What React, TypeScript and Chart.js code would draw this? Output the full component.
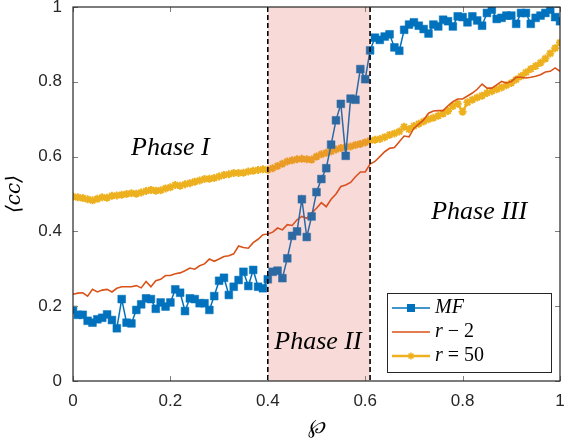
import { useEffect, useRef } from "react";
import { Chart, registerables } from "chart.js";

Chart.register(...registerables);

// sample positions (wp)
const phi = [
  0, 0.01, 0.02, 0.03, 0.04, 0.05, 0.06, 0.07, 0.08, 0.09,
  0.1, 0.11, 0.12, 0.13, 0.14, 0.15, 0.16, 0.17, 0.18, 0.19,
  0.2, 0.21, 0.22, 0.23, 0.24, 0.25, 0.26, 0.27, 0.28, 0.29,
  0.3, 0.31, 0.32, 0.33, 0.34, 0.35, 0.36, 0.37, 0.38, 0.39,
  0.4, 0.41, 0.42, 0.43, 0.44, 0.45, 0.46, 0.47, 0.48, 0.49,
  0.5, 0.51, 0.52, 0.53, 0.54, 0.55, 0.56, 0.57, 0.58, 0.59,
  0.6, 0.61, 0.62, 0.63, 0.64, 0.65, 0.66, 0.67, 0.68, 0.69,
  0.7, 0.71, 0.72, 0.73, 0.74, 0.75, 0.76, 0.77, 0.78, 0.79,
  0.8, 0.81, 0.82, 0.83, 0.84, 0.85, 0.86, 0.87, 0.88, 0.89,
  0.9, 0.91, 0.92, 0.93, 0.94, 0.95, 0.96, 0.97, 0.98, 0.99,
  1,
];

const mfValues = [
  0.19, 0.177, 0.177, 0.161, 0.156, 0.165, 0.169, 0.178, 0.163, 0.141,
  0.219, 0.156, 0.154, 0.19, 0.205, 0.221, 0.219, 0.193, 0.21, 0.199,
  0.21, 0.245, 0.236, 0.187, 0.221, 0.219, 0.208, 0.208, 0.19, 0.227,
  0.268, 0.276, 0.23, 0.252, 0.27, 0.292, 0.254, 0.297, 0.252, 0.248,
  0.272, 0.292, 0.295, 0.275, 0.328, 0.388, 0.4, 0.486, 0.385, 0.44,
  0.505, 0.54, 0.569, 0.632, 0.697, 0.741, 0.602, 0.755, 0.752, 0.834,
  0.807, 0.884, 0.918, 0.912, 0.921, 0.927, 0.892, 0.883, 0.939, 0.953,
  0.959, 0.95, 0.941, 0.929, 0.953, 0.948, 0.966, 0.962, 0.948, 0.975,
  0.973, 0.959, 0.975, 0.964, 0.95, 0.984, 0.993, 0.968, 0.971, 0.977,
  0.977, 0.955, 0.984, 0.984, 0.955, 0.971, 0.977, 0.984, 0.993, 0.973,
  0.962,
];

const r2Values = [
  0.232, 0.235, 0.236, 0.227, 0.245, 0.238, 0.243, 0.245, 0.238, 0.248,
  0.252, 0.252, 0.252, 0.255, 0.249, 0.266, 0.252, 0.268, 0.272, 0.282,
  0.282, 0.287, 0.289, 0.295, 0.302, 0.299, 0.308, 0.313, 0.326, 0.32,
  0.326, 0.333, 0.335, 0.34, 0.361, 0.357, 0.355, 0.37, 0.379, 0.391,
  0.393, 0.398, 0.409, 0.404, 0.418, 0.416, 0.431, 0.44, 0.435, 0.449,
  0.462, 0.477, 0.466, 0.486, 0.5, 0.52, 0.524, 0.531, 0.546, 0.559,
  0.559, 0.58, 0.587, 0.6, 0.613, 0.622, 0.624, 0.64, 0.655, 0.653,
  0.676, 0.687, 0.698, 0.716, 0.722, 0.723, 0.723, 0.736, 0.747, 0.754,
  0.754, 0.762, 0.77, 0.78, 0.794, 0.783, 0.783, 0.792, 0.801, 0.797,
  0.801, 0.812, 0.812, 0.81, 0.812, 0.815, 0.819, 0.826, 0.828, 0.837,
  0.828,
];

const r50Values = [
  0.493, 0.491, 0.489, 0.486, 0.483, 0.487, 0.491, 0.49, 0.495, 0.496,
  0.498, 0.5, 0.502, 0.501, 0.504, 0.508, 0.511, 0.509, 0.51, 0.515,
  0.518, 0.524, 0.522, 0.526, 0.529, 0.533, 0.536, 0.54, 0.541, 0.543,
  0.547, 0.551, 0.553, 0.556, 0.556, 0.557, 0.56, 0.562, 0.564, 0.566,
  0.565, 0.569, 0.575, 0.581, 0.587, 0.59, 0.593, 0.594, 0.593, 0.592,
  0.6, 0.606, 0.61, 0.614, 0.619, 0.623, 0.625, 0.627, 0.631, 0.634,
  0.638, 0.643, 0.645, 0.647, 0.652, 0.658, 0.662, 0.667, 0.68, 0.673,
  0.682, 0.688, 0.694, 0.7, 0.704, 0.709, 0.715, 0.722, 0.735, 0.741,
  0.72, 0.745, 0.752, 0.758, 0.763, 0.77, 0.775, 0.78, 0.785, 0.791,
  0.797, 0.806, 0.815, 0.825, 0.834, 0.842, 0.851, 0.862, 0.876, 0.89,
  0.905,
];

const seriesLabels = ["MF", "r \u2212 2", "r = 50"];

const xTickValues = [0, 0.2, 0.4, 0.6, 0.8, 1];
const xTickLabels = ["0", "0.2", "0.4", "0.6", "0.8", "1"];
const yTickValues = [0, 0.2, 0.4, 0.6, 0.8, 1];
const yTickLabels = ["0", "0.2", "0.4", "0.6", "0.8", "1"];

// phase II band edges
const phaseBounds = [0.4, 0.61];
const phaseNames = ["Phase I", "Phase II", "Phase III"];
const phaseAnchors = [
  [0.2, 0.623],
  [0.503, 0.104],
  [0.834, 0.452],
];

const BLUE = "#0072BD";
const RED = "#D95319";
const YELLOW = "#EDB120";
const AXIS = "#262626";

const mathFont = "'Liberation Serif', serif";

// letters italic, the rest upright, like LaTeX math
function drawMath(ctx: CanvasRenderingContext2D, text: string, x: number, y: number, size: number, align: "left" | "center") {
  const runs: { t: string; it: boolean }[] = [];
  for (const ch of text) {
    const it = /[A-Za-z]/.test(ch);
    const last = runs[runs.length - 1];
    if (last && last.it === it) last.t += ch;
    else runs.push({ t: ch, it });
  }
  const fontFor = (it: boolean) => `${it ? "italic " : ""}${size}px ${mathFont}`;
  let total = 0;
  for (const r of runs) {
    ctx.font = fontFor(r.it);
    total += ctx.measureText(r.t).width;
  }
  let cx = align === "center" ? x - total / 2 : x;
  ctx.textBaseline = "middle";
  ctx.textAlign = "left";
  for (const r of runs) {
    ctx.font = fontFor(r.it);
    ctx.fillText(r.t, cx, y);
    cx += ctx.measureText(r.t).width;
  }
}

const overlayPlugin = {
  id: "phaseOverlay",
  afterDatasetsDraw(chart: any) {
    const { ctx, chartArea, scales } = chart;
    const { left, right, top, bottom } = chartArea;
    const x0 = scales.x.getPixelForValue(phaseBounds[0]);
    const x1 = scales.x.getPixelForValue(phaseBounds[1]);
    ctx.save();

    // translucent band over the data
    ctx.fillStyle = "rgba(220, 70, 60, 0.2)";
    ctx.fillRect(x0, top, x1 - x0, bottom - top);

    // dashed borders
    ctx.strokeStyle = "#000";
    ctx.lineWidth = 1.6;
    ctx.setLineDash([5, 3]);
    for (const xp of [x0, x1]) {
      ctx.beginPath();
      ctx.moveTo(xp, top);
      ctx.lineTo(xp, bottom);
      ctx.stroke();
    }
    ctx.setLineDash([]);

    // phase labels
    ctx.fillStyle = "#000";
    phaseNames.forEach((name, i) => {
      const px = scales.x.getPixelForValue(phaseAnchors[i][0]);
      const py = scales.y.getPixelForValue(phaseAnchors[i][1]);
      drawMath(ctx, name, px, py, 26, "center");
    });

    // inward tick marks on all four sides
    ctx.strokeStyle = "#808080";
    ctx.lineWidth = 1;
    const tl = 5;
    for (const v of xTickValues) {
      const xp = Math.round(scales.x.getPixelForValue(v)) + 0.5;
      ctx.beginPath();
      ctx.moveTo(xp, bottom);
      ctx.lineTo(xp, bottom - tl);
      ctx.moveTo(xp, top);
      ctx.lineTo(xp, top + tl);
      ctx.stroke();
    }
    for (const v of yTickValues) {
      const yp = Math.round(scales.y.getPixelForValue(v)) + 0.5;
      ctx.beginPath();
      ctx.moveTo(left, yp);
      ctx.lineTo(left + tl, yp);
      ctx.moveTo(right, yp);
      ctx.lineTo(right - tl, yp);
      ctx.stroke();
    }

    // axes box
    ctx.strokeStyle = AXIS;
    ctx.lineWidth = 1.2;
    ctx.strokeRect(left, top, right - left, bottom - top);

    // legend box in the lower right corner
    const bw = 164;
    const bh = 79;
    const bx = right - 9 - bw;
    const by = bottom - 9 - bh;
    ctx.fillStyle = "#fff";
    ctx.fillRect(bx, by, bw, bh);
    ctx.strokeStyle = AXIS;
    ctx.lineWidth = 1;
    ctx.strokeRect(bx + 0.5, by + 0.5, bw, bh);
    chart.data.datasets.forEach((ds: any, i: number) => {
      const ly = by + 15 + i * 24;
      const lx0 = bx + 5;
      const lx1 = bx + 43;
      const mx = (lx0 + lx1) / 2;
      ctx.strokeStyle = ds.borderColor;
      ctx.lineWidth = ds.borderWidth;
      ctx.beginPath();
      ctx.moveTo(lx0, ly);
      ctx.lineTo(lx1, ly);
      ctx.stroke();
      if (ds.pointStyle === "rect") {
        ctx.fillStyle = ds.pointBackgroundColor;
        const s = 8;
        ctx.fillRect(mx - s / 2, ly - s / 2, s, s);
      } else if (ds.pointStyle === "star") {
        ctx.strokeStyle = ds.pointBorderColor;
        ctx.lineWidth = 1.5;
        const r = 3.5;
        ctx.beginPath();
        for (let k = 0; k < 4; k++) {
          const a = (k * Math.PI) / 4;
          ctx.moveTo(mx - r * Math.cos(a), ly - r * Math.sin(a));
          ctx.lineTo(mx + r * Math.cos(a), ly + r * Math.sin(a));
        }
        ctx.stroke();
      }
      ctx.fillStyle = "#000";
      drawMath(ctx, ds.label, bx + 48, ly, 20, "left");
    });

    ctx.restore();
  },
};

const tickFont = { family: "'Liberation Sans', Arial, sans-serif", size: 17 };

const App: React.FC = () => {
  const chartRef = useRef<HTMLCanvasElement | null>(null);
  const chartInstance = useRef<Chart | null>(null);

  useEffect(() => {
    if (chartInstance.current) {
      chartInstance.current.destroy();
    }
    const ctx = chartRef.current?.getContext("2d");
    if (!ctx) return;

    const toPoints = (vals: number[]) => vals.map((v, i) => ({ x: phi[i], y: v }));

    chartInstance.current = new Chart(ctx, {
      type: "line",
      data: {
        datasets: [
          {
            label: seriesLabels[0],
            data: toPoints(mfValues),
            borderColor: BLUE,
            borderWidth: 1.5,
            pointStyle: "rect",
            pointRadius: 5.5,
            pointBackgroundColor: BLUE,
            pointBorderColor: BLUE,
            pointBorderWidth: 0.5,
            tension: 0,
          },
          {
            label: seriesLabels[1],
            data: toPoints(r2Values),
            borderColor: RED,
            borderWidth: 1.6,
            pointRadius: 0,
            tension: 0,
          },
          {
            label: seriesLabels[2],
            data: toPoints(r50Values),
            borderColor: YELLOW,
            borderWidth: 2.5,
            pointStyle: "star",
            pointRadius: 4,
            pointBorderWidth: 2,
            pointBackgroundColor: YELLOW,
            pointBorderColor: YELLOW,
            tension: 0,
          },
        ] as any,
      },
      options: {
        animation: false,
        responsive: true,
        maintainAspectRatio: false,
        layout: { padding: { top: 7, right: 6, left: 0, bottom: 0 } },
        plugins: {
          legend: { display: false },
          tooltip: { enabled: false },
        },
        scales: {
          x: {
            type: "linear",
            min: 0,
            max: 1,
            afterBuildTicks: (s: any) => {
              s.ticks = xTickValues.map((v) => ({ value: v }));
            },
            afterFit: (s: any) => {
              s.height = 61;
              s.paddingLeft = 0;
              s.paddingRight = 0;
            },
            ticks: {
              callback: (v: any) => xTickLabels[xTickValues.indexOf(Number(v))] ?? "",
              font: tickFont,
              color: AXIS,
              padding: 10,
              maxRotation: 0,
              autoSkip: false,
            },
            grid: { display: false, drawTicks: false },
            border: { display: false },
            title: {
              display: true,
              text: "\u2118",
              color: "#000",
              font: { family: "'DejaVu Serif', serif", size: 20, style: "italic" },
              padding: { top: 0, bottom: 2 },
            },
          },
          y: {
            type: "linear",
            min: 0,
            max: 1,
            afterBuildTicks: (s: any) => {
              s.ticks = yTickValues.map((v) => ({ value: v }));
            },
            afterFit: (s: any) => {
              s.width = 73;
              s.paddingTop = 0;
              s.paddingBottom = 0;
            },
            ticks: {
              callback: (v: any) => yTickLabels[yTickValues.indexOf(Number(v))] ?? "",
              font: tickFont,
              color: AXIS,
              padding: 11,
              autoSkip: false,
            },
            grid: { display: false, drawTicks: false },
            border: { display: false },
            title: {
              display: true,
              text: "\u27E8cc\u27E9",
              color: "#000",
              font: { family: "'DejaVu Serif', serif", size: 20, style: "italic" },
              padding: { top: 3, bottom: 0 },
            },
          },
        },
      } as any,
      plugins: [overlayPlugin],
    });

    return () => {
      if (chartInstance.current) {
        chartInstance.current.destroy();
        chartInstance.current = null;
      }
    };
  }, []);

  return (
    <div style={{ position: "absolute", left: 0, top: 0, width: 566, height: 442, background: "#fff" }}>
      <canvas ref={chartRef} />
    </div>
  );
};

export default App;
